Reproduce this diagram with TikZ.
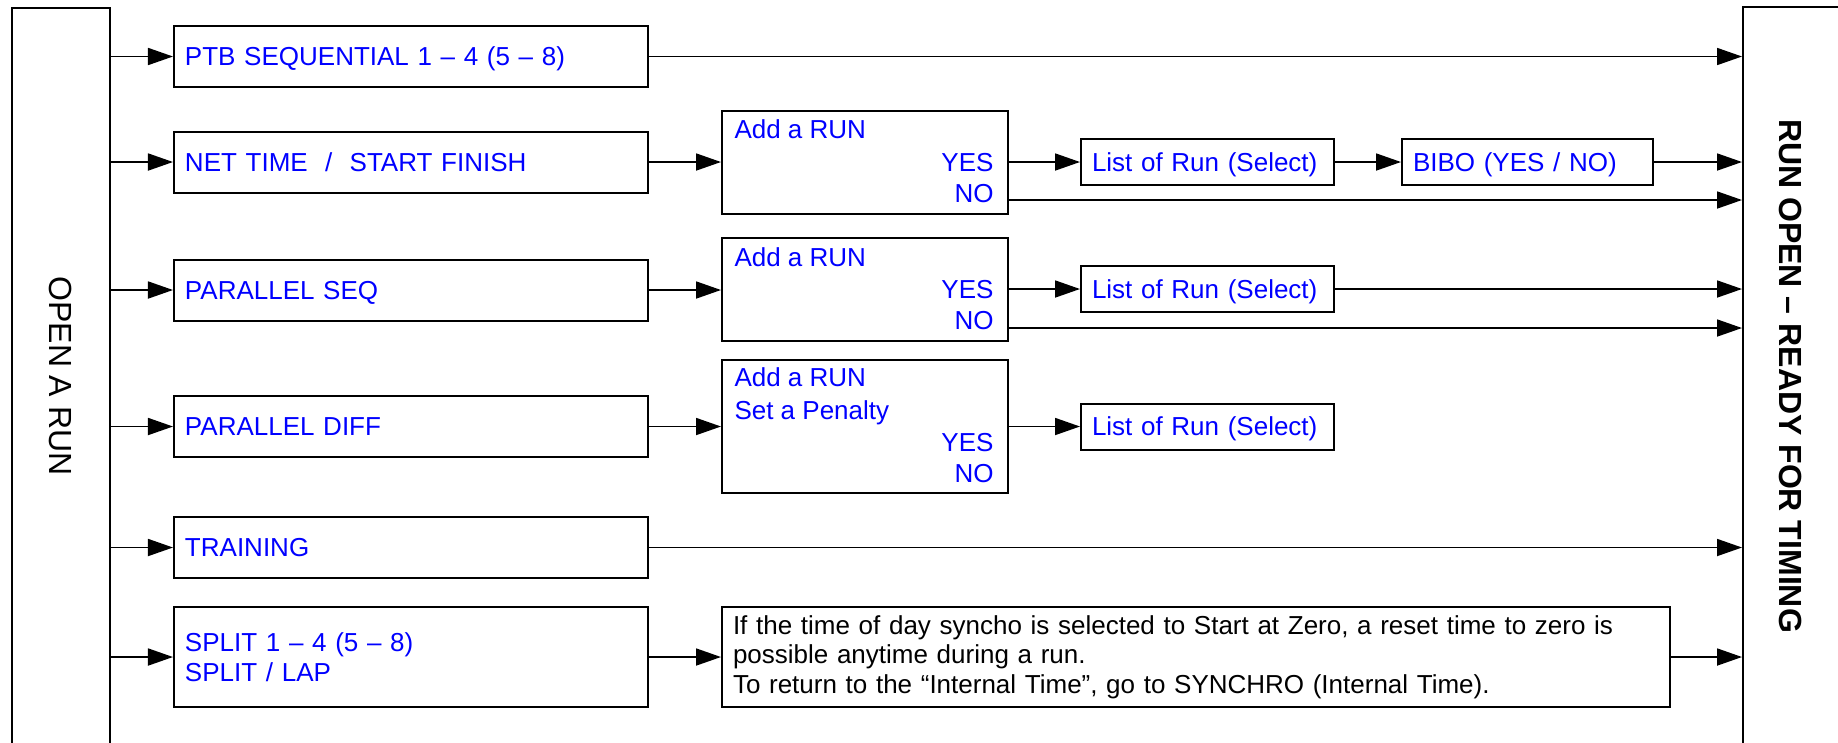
\documentclass[tikz,border=0pt]{standalone}
\usepackage{fontspec}
\setmainfont{Liberation Sans}
\usepackage{tikz}
\usetikzlibrary{arrows.meta,positioning,calc}

\begin{document}
\begin{tikzpicture}[x=0.4pt,y=-0.4pt]
\tikzstyle{fleche}=[-{Triangle[length=10pt,width=6.8pt]},line width=0.7pt]
\tikzstyle{cadre}=[draw,line width=0.8pt,minimum width=39.2pt,minimum height=400pt]
\tikzstyle{titre}=[rotate=-90,font=\fontsize{12.8}{14}\selectfont]
\tikzstyle{texte}=[font=\fontsize{10.4}{12}\selectfont,text=blue,inner sep=0pt,text height=7.5pt,text depth=0pt]
\tikzstyle{boite}=[draw,line width=0.8pt,font=\fontsize{10.4}{12}\selectfont,text=blue,inner xsep=4.4pt,inner ysep=2pt,align=left]
\tikzstyle{mode}=[boite,minimum height=24.4pt,text width=180.8pt]
\tikzstyle{choix}=[draw,line width=0.8pt,minimum width=114.4pt]
\tikzstyle{liste}=[boite,minimum height=18.4pt,text width=92.4pt,text height=7.5pt,text depth=0pt]
\def\ColA{411}
\def\ColB{865}
\def\ColC{1207.5}
\useasboundingbox (0,0) rectangle (1838,742);
\clip (0,0) rectangle (1838,742);
% grands cadres
\node[cadre] (debut) at (61,508) {};
\node[titre] (titredebut) at (61,376) {OPEN A RUN};
\node[cadre,minimum width=80pt] (fin) at (1843,507) {};
\node[titre,font=\fontsize{12.8}{14}\selectfont\bfseries] (titrefin) at (1790,376) {RUN OPEN – READY FOR TIMING};
% modes
\node[mode,text height=7.5pt,text depth=0pt] (ptb) at (\ColA,56.5) {PTB SEQUENTIAL 1 – 4 (5 – 8)};
\node[mode,text height=7.5pt,text depth=0pt] (net) at (\ColA,162) {NET TIME \ / \ START FINISH};
\node[mode,text height=7.5pt,text depth=0pt] (pseq) at (\ColA,290) {PARALLEL SEQ};
\node[mode,text height=7.5pt,text depth=0pt] (pdiff) at (\ColA,426.5) {PARALLEL DIFF};
\node[mode,text height=7.5pt,text depth=0pt] (train) at (\ColA,547.5) {TRAINING};
\node[mode,minimum height=40pt] (split) at (\ColA,657) {SPLIT 1 – 4 (5 – 8)\\SPLIT / LAP};
% choix
\node[choix,minimum height=41.2pt] (choix1) at (\ColB,162.5) {};
\node[texte,anchor=west] (ajout1) at (734,129) {Add a RUN};
\node[texte,anchor=east] (oui1) at (994,162) {YES};
\node[texte,anchor=east] (non1) at (994,193) {NO};
\coordinate (sortie1) at (1008,200);
\node[choix,minimum height=41.2pt] (choix2) at (\ColB,289.5) {};
\node[texte,anchor=west] (ajout2) at (734,257) {Add a RUN};
\node[texte,anchor=east] (oui2) at (994,289) {YES};
\node[texte,anchor=east] (non2) at (994,320) {NO};
\coordinate (sortie2) at (1008,328);
\node[choix,minimum height=53.2pt] (choix3) at (\ColB,426.5) {};
\node[texte,anchor=west] (ajout3) at (734,377) {Add a RUN};
\node[texte,anchor=west] (penalite) at (734,410) {Set a Penalty};
\node[texte,anchor=east] (oui3) at (994,442) {YES};
\node[texte,anchor=east] (non3) at (994,473) {NO};
% listes
\node[liste] (liste1) at (\ColC,162) {List of Run (Select)};
\node[liste] (liste2) at (\ColC,289) {List of Run (Select)};
\node[liste] (liste3) at (\ColC,426.5) {List of Run (Select)};
\node[liste,text width=91.6pt] (bibo) at (1527.5,162) {BIBO (YES / NO)};
\node[boite,text=black,font=\fontsize{10.4}{11.8}\selectfont,minimum height=40pt,text width=370.4pt] (info) at (1196,657)
  {If the time of day syncho is selected to Start at Zero, a reset time to zero is\\possible anytime during a run.\\To return to the “Internal Time”, go to SYNCHRO (Internal Time).};
% fleches
\draw[fleche] (debut.east |- ptb) -- (ptb);
\draw[fleche] (debut.east |- net) -- (net);
\draw[fleche] (debut.east |- pseq) -- (pseq);
\draw[fleche] (debut.east |- pdiff) -- (pdiff);
\draw[fleche] (debut.east |- train) -- (train);
\draw[fleche] (debut.east |- split) -- (split);
\draw[fleche] (ptb) -- (ptb -| fin.west);
\draw[fleche] (net) -- (net -| choix1.west);
\draw[fleche] (choix1.east |- oui1) -- (liste1);
\draw[fleche] (liste1) -- (bibo);
\draw[fleche] (bibo) -- (bibo -| fin.west);
\draw[fleche] (sortie1) -- (sortie1 -| fin.west);
\draw[fleche] (pseq) -- (pseq -| choix2.west);
\draw[fleche] (choix2.east |- oui2) -- (liste2);
\draw[fleche] (liste2) -- (liste2 -| fin.west);
\draw[fleche] (sortie2) -- (sortie2 -| fin.west);
\draw[fleche] (pdiff) -- (pdiff -| choix3.west);
\draw[fleche] (choix3.east |- liste3) -- (liste3);
\draw[fleche] (train) -- (train -| fin.west);
\draw[fleche] (split) -- (info);
\draw[fleche] (info) -- (info -| fin.west);
\end{tikzpicture}
\end{document}
